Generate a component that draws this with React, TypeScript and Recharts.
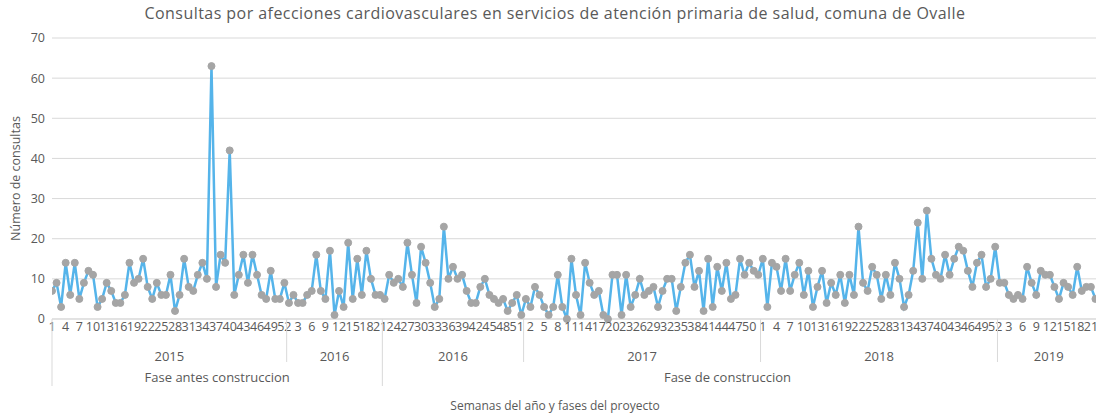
import { LineChart, Line, XAxis, YAxis, CartesianGrid } from 'recharts'

const title = 'Consultas por afecciones cardiovasculares en servicios de atención primaria de salud, comuna de Ovalle'
const yTitle = 'Número de consultas'
const xTitle = 'Semanas del año y fases del proyecto'

// consultas semanales por año (2019 hasta la semana 22, lo visible)
const years = ['2015', '2016', '2017', '2018', '2019']
const v2015 = [7, 9, 3, 14, 6, 14, 5, 9, 12, 11, 3, 5, 9, 7, 4, 4, 6, 14, 9, 10, 15, 8, 5, 9, 6, 6, 11, 2, 6, 15, 8, 7, 11, 14, 10, 63, 8, 16, 14, 42, 6, 11, 16, 9, 16, 11, 6, 5, 12, 5, 5, 9]
const v2016 = [4, 6, 4, 4, 6, 7, 16, 7, 5, 17, 1, 7, 3, 19, 5, 15, 6, 17, 10, 6, 6, 5, 11, 9, 10, 8, 19, 11, 4, 18, 14, 9, 3, 5, 23, 10, 13, 10, 11, 7, 4, 4, 8, 10, 6, 5, 4, 5, 2, 4, 6, 1]
const v2017 = [5, 3, 8, 6, 3, 1, 3, 11, 3, 0, 15, 6, 1, 14, 9, 6, 7, 1, 0, 11, 11, 1, 11, 3, 6, 10, 6, 7, 8, 3, 7, 10, 10, 2, 8, 14, 16, 8, 12, 2, 15, 3, 13, 7, 14, 5, 6, 15, 11, 14, 12, 11]
const v2018 = [15, 3, 14, 13, 7, 15, 7, 11, 14, 6, 12, 3, 8, 12, 4, 9, 6, 11, 4, 11, 6, 23, 9, 7, 13, 11, 5, 11, 6, 14, 10, 3, 6, 12, 24, 10, 27, 15, 11, 10, 16, 11, 15, 18, 17, 12, 8, 14, 16, 8, 10, 18]
const v2019 = [9, 9, 6, 5, 6, 5, 13, 9, 6, 12, 11, 11, 8, 5, 9, 8, 6, 13, 7, 8, 8, 5]
const valuesByYear = [v2015, v2016, v2017, v2018, v2019]

const phases = ['Fase antes construccion', 'Fase de construccion']
const constructionStart = { year: '2016', week: 22 }

const yTicks = [0, 10, 20, 30, 40, 50, 60, 70]

// layout
const W = 1110
const H = 417
const AXIS_END = 230 // the axis runs one week past the last visible point
const PHASE_LABEL_END = 224
const MAIN_H = 22
const YEAR_H = 24
const PHASE_H = 26
const TEXT = '#595959'
const GRID = '#d9d9d9'
const FONT = '"Open Sans", sans-serif'

type Row = { idx: number; year: string; week: number; phase: number; consultas: number }
const rows: Row[] = []
years.forEach((year, yi) => {
  valuesByYear[yi].forEach((v, wi) => {
    const week = wi + 1
    const phase = year > constructionStart.year || (year === constructionStart.year && week >= constructionStart.week) ? 1 : 0
    rows.push({ idx: rows.length, year, week, phase, consultas: v })
  })
})

type Group = { key: string; label: string; start: number; end: number }
function groupsBy(key: (r: Row) => string, label: (r: Row) => string) {
  const out: Group[] = []
  rows.forEach(r => {
    const k = key(r)
    const last = out[out.length - 1]
    if (!last || last.key !== k) out.push({ key: k, label: label(r), start: r.idx, end: r.idx })
    else last.end = r.idx
  })
  return out
}
const yearGroups = groupsBy(r => r.year + '|' + r.phase, r => r.year)
const phaseGroups = groupsBy(r => String(r.phase), r => phases[r.phase])

const left = (g: Group) => (g.start === 0 ? 0 : g.start - 0.5)
const right = (g: Group, i: number, arr: Group[]) => (i === arr.length - 1 ? AXIS_END : g.end + 0.5)

const weekTicks = rows.filter(r => r.idx % 3 === 0).map(r => r.idx)

const phaseBounds = phaseGroups.map(left)
const yearMarks = new Map<number, { kind: 'line' | 'text'; label?: string }>()
yearGroups.forEach((g, i, arr) => {
  const l = left(g)
  if (!phaseBounds.includes(l)) yearMarks.set(l, { kind: 'line' })
  yearMarks.set((l + right(g, i, arr)) / 2, { kind: 'text', label: g.label })
})
const phaseMarks = new Map<number, { kind: 'line' | 'text'; label?: string }>()
phaseGroups.forEach((g, i, arr) => {
  const l = left(g)
  phaseMarks.set(l, { kind: 'line' })
  const r = i === arr.length - 1 ? PHASE_LABEL_END : right(g, i, arr)
  phaseMarks.set((l + r) / 2, { kind: 'text', label: g.label })
})

const WeekTick = (p: any) => (
  <text x={p.x} y={p.y + 12} textAnchor="middle" fill={TEXT} fontSize={12.5}>
    {rows[p.payload.value]?.week}
  </text>
)

const YearTick = (p: any) => {
  const m = yearMarks.get(p.payload.value)
  if (!m) return null
  if (m.kind === 'line') return <line x1={p.x} x2={p.x} y1={p.y - MAIN_H} y2={p.y + 21} stroke={GRID} />
  return (
    <text x={p.x} y={p.y + 20} textAnchor="middle" fill={TEXT} fontSize={13}>
      {m.label}
    </text>
  )
}

const PhaseTick = (p: any) => {
  const m = phaseMarks.get(p.payload.value)
  if (!m) return null
  if (m.kind === 'line') return <line x1={p.x} x2={p.x} y1={p.y - MAIN_H - YEAR_H} y2={p.y + 21} stroke={GRID} />
  return (
    <text x={p.x} y={p.y + 17} textAnchor="middle" fill={TEXT} fontSize={13}>
      {m.label}
    </text>
  )
}

export default function App() {
  return (
    <div style={{ position: 'absolute', left: 0, top: 0, width: 1096, height: H, overflow: 'hidden', background: '#fff', fontFamily: FONT }}>
      <div style={{ position: 'absolute', left: 0, top: 5, width: W, textAlign: 'center', fontSize: 16, letterSpacing: 0.45, lineHeight: '16px', color: TEXT }}>
        {title}
      </div>
      <div style={{ position: 'absolute', left: 0, top: 399, width: W, textAlign: 'center', fontSize: 12, lineHeight: '13px', color: TEXT }}>
        {xTitle}
      </div>
      <LineChart width={W} height={H} data={rows} margin={{ top: 38, right: 10, left: 0, bottom: 26 }}>
        <CartesianGrid vertical={false} stroke={GRID} />
        <XAxis
          dataKey="idx"
          type="number"
          domain={[0, AXIS_END]}
          allowDataOverflow
          ticks={weekTicks}
          interval={0}
          height={MAIN_H}
          tickSize={0}
          tickMargin={0}
          tickLine={false}
          axisLine={{ stroke: GRID }}
          tick={<WeekTick />}
        />
        <XAxis
          xAxisId={1}
          dataKey="idx"
          type="number"
          domain={[0, AXIS_END]}
          allowDataOverflow
          ticks={[...yearMarks.keys()]}
          interval={0}
          height={YEAR_H}
          tickSize={0}
          tickMargin={0}
          tickLine={false}
          axisLine={false}
          tick={<YearTick />}
        />
        <XAxis
          xAxisId={2}
          dataKey="idx"
          type="number"
          domain={[0, AXIS_END]}
          allowDataOverflow
          ticks={[...phaseMarks.keys()]}
          interval={0}
          height={PHASE_H}
          tickSize={0}
          tickMargin={0}
          tickLine={false}
          axisLine={false}
          tick={<PhaseTick />}
        />
        <YAxis
          domain={[0, 70]}
          ticks={yTicks}
          interval={0}
          width={52}
          tickSize={0}
          tickMargin={7}
          tickLine={false}
          axisLine={false}
          tick={{ fill: TEXT, fontSize: 12.5 }}
          label={{ value: yTitle, angle: -90, position: 'insideLeft', offset: 16, style: { textAnchor: 'middle', fill: TEXT, fontSize: 12.5 } }}
        />
        <Line
          dataKey="consultas"
          stroke="#55B4EA"
          strokeWidth={2.5}
          dot={{ r: 3.5, fill: '#A5A5A5', stroke: '#A5A5A5', strokeWidth: 1 }}
          isAnimationActive={false}
        />
      </LineChart>
    </div>
  )
}
